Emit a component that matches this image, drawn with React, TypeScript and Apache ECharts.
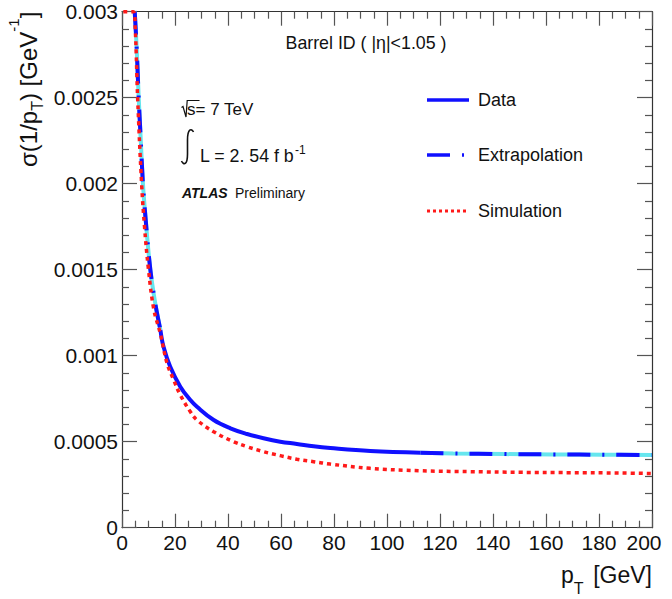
import React, { useEffect, useRef } from "react";
import * as echarts from "echarts";

// ---- data ----
const xTickValues = [0, 20, 40, 60, 80, 100, 120, 140, 160, 180, 200];
const yTickLabels = ["0", "0.0005", "0.001", "0.0015", "0.002", "0.0025", "0.003"];

// fitted resolution curve (Data in the middle, Extrapolation at both ends)
const fitPt = [4.8, 5.5, 6.3, 7, 7.9, 9, 10.7, 12.6, 14.5, 15.7, 18.2, 22, 25.8, 28.3, 34.6, 40.9, 47.2, 53.4, 59.7, 66, 72.3, 78.6, 93.7, 112.6, 125, 144, 163, 182, 200];
const fitSigma = [0.003, 0.0028, 0.0025, 0.00228, 0.002, 0.00178, 0.0015, 0.0013, 0.00115, 0.00105, 0.000936, 0.00082, 0.000742, 0.000703, 0.000626, 0.000578, 0.000545, 0.00052, 0.0005, 0.000487, 0.000473, 0.000463, 0.000446, 0.000436, 0.000432, 0.000428, 0.000426, 0.000424, 0.000423];
const dataRange = [14.5, 112.6];

// simulation curve
const simPt = [0.5, 4.3, 5.0, 5.9, 7.4, 8.5, 10.0, 12, 14.45, 17, 19.5, 22, 25.8, 28.3, 34.6, 42.1, 47.2, 53.4, 59.7, 66, 72.3, 78.6, 93.7, 112.6, 131.4, 150.3, 169, 188, 200];
const simSigma = [0.003, 0.003, 0.0029, 0.0025, 0.002, 0.00175, 0.0015, 0.00127, 0.00113, 0.000956, 0.000859, 0.000772, 0.000674, 0.000626, 0.000558, 0.0005, 0.000471, 0.000442, 0.000419, 0.000398, 0.000384, 0.00037, 0.000345, 0.000331, 0.000326, 0.000322, 0.00032, 0.000318, 0.000315];

const legendNames = ["Data", "Extrapolation", "Simulation"];

const FONT = "'Liberation Sans', Arial, Helvetica, sans-serif";
const BLUE = "#1010ff";
const CYAN = "#66e6ee";
const RED = "#ff1a1a";
const EXTRAP_DASH = [23, 12, 2, 12];
const SIM_DASH = [4, 4];

export default function App() {
  const ref = useRef<HTMLDivElement>(null);

  useEffect(() => {
    const chart = echarts.init(ref.current!, null, { renderer: "svg" });
    const pair = (xs: number[], ys: number[]) => xs.map((x, i) => [x, ys[i]]);
    const fit = pair(fitPt, fitSigma);
    const low = fit.filter((p) => p[0] <= dataRange[0]);
    const mid = fit.filter((p) => p[0] >= dataRange[0] && p[0] <= dataRange[1]);
    const high = fit.filter((p) => p[0] >= dataRange[1]);
    const sim = pair(simPt, simSigma);

    const ctx = document.createElement("canvas").getContext("2d")!;
    const measure = (t: string, size: number) => {
      ctx.font = `${size}px ${FONT}`;
      return ctx.measureText(t).width;
    };

    const axisCommon = {
      axisLine: { show: true, onZero: false, lineStyle: { color: "#333", width: 1.2 } },
      splitLine: { show: false },
      minorSplitLine: { show: false },
    };
    const xTick = {
      axisTick: { show: true, inside: true, length: 14, lineStyle: { color: "#555", width: 1.2 } },
      minorTick: { show: true, splitNumber: 4, length: 7, lineStyle: { color: "#555", width: 1.2 } },
    };
    const yTick = {
      axisTick: { show: true, inside: true, length: 15, lineStyle: { color: "#555", width: 1.2 } },
      minorTick: { show: true, splitNumber: 5, length: 7, lineStyle: { color: "#555", width: 1.2 } },
    };
    const labelStyle = { fontSize: 21, fontFamily: FONT, color: "#111" };

    const lineSeries = (data: number[][], color: string, width: number, dash: any, z: number) => ({
      type: "line",
      data,
      showSymbol: false,
      symbol: "none",
      smooth: 0.4,
      clip: false,
      z,
      lineStyle: { color, width, type: dash || "solid", cap: "butt" },
      silent: true,
    });

    const txt = (text: string, x: number, y: number, size: number, extra: any = {}) => ({
      type: "text",
      x,
      y,
      style: {
        text,
        fontSize: size,
        fontFamily: FONT,
        fill: "#111",
        align: "left",
        verticalAlign: "middle",
        ...extra,
      },
    });

    // y-axis title pieces laid out contiguously along the reading direction
    const yTitle = [
      { t: "σ(1/p", size: 24, dy: 0 },
      { t: "T", size: 16, dy: 9 },
      { t: ") [GeV", size: 24, dy: 0 },
      { t: "-1", size: 15, dy: -15.7 },
      { t: "]", size: 24, dy: 0 },
    ];
    let cursor = 0;
    const yTitleChildren = yTitle.map((p) => {
      const el = txt(p.t, cursor, p.dy, p.size);
      cursor += measure(p.t, p.size);
      return el;
    });

    const pW = measure("p", 23);
    const legendY = [100, 155, 211];

    chart.setOption({
      animation: false,
      backgroundColor: "#fff",
      grid: { left: 122, right: 20, top: 11.7, bottom: 71.3, containLabel: false },
      xAxis: [
        {
          type: "value",
          min: xTickValues[0],
          max: xTickValues[xTickValues.length - 1],
          interval: 20,
          position: "bottom",
          ...axisCommon,
          ...xTick,
          axisLabel: {
            ...labelStyle,
            margin: 4,
            formatter: (v: number) => (v === 200 ? "{last|200}" : String(v)),
            rich: { last: { ...labelStyle, padding: [0, 16, 0, 0] } },
          },
        },
        {
          type: "value",
          min: xTickValues[0],
          max: xTickValues[xTickValues.length - 1],
          interval: 20,
          position: "top",
          ...axisCommon,
          ...xTick,
          axisLabel: { show: false },
        },
      ],
      yAxis: [
        {
          type: "value",
          min: 0,
          max: 0.003,
          interval: 0.0005,
          position: "left",
          ...axisCommon,
          ...yTick,
          axisLabel: {
            ...labelStyle,
            margin: 4,
            formatter: (v: number) => yTickLabels[Math.round(v / 0.0005)] ?? "",
          },
        },
        {
          type: "value",
          min: 0,
          max: 0.003,
          interval: 0.0005,
          position: "right",
          ...axisCommon,
          ...yTick,
          axisLabel: { show: false },
        },
      ],
      series: [
        lineSeries(low, CYAN, 4, "solid", 1),
        lineSeries(high, CYAN, 4, "solid", 1),
        lineSeries(low, BLUE, 4, EXTRAP_DASH, 2),
        lineSeries(high, BLUE, 4, EXTRAP_DASH, 2),
        { ...lineSeries(mid, BLUE, 4, "solid", 3), name: legendNames[0] },
        { ...lineSeries(sim, RED, 3.5, SIM_DASH, 4), name: legendNames[2] },
      ],
      graphic: [
        // Y axis title
        {
          type: "group",
          x: 28.7,
          y: 167,
          rotation: Math.PI / 2,
          children: yTitleChildren,
        },
        // X axis title
        txt("p", 561, 575.4, 23),
        txt("T", 561 + pW, 588, 16),
        txt("[GeV]", 652, 575.4, 23, { align: "right" }),
        // annotations
        txt("Barrel ID ( |η|<1.05 )", 366, 43, 17.8, { align: "center" }),
        {
          type: "polyline",
          shape: { points: [[181.5, 107.5], [183, 106.5], [186, 117], [187.2, 100.5], [199.5, 100.5]] },
          style: { stroke: "#111", lineWidth: 1.2, fill: null },
        },
        txt("s= 7 TeV", 187, 109, 17),
        {
          type: "bezierCurve",
          shape: { x1: 193.5, y1: 132, cpx1: 191.5, cpy1: 128, cpx2: 187.5, cpy2: 128.5, x2: 187.5, y2: 140 },
          style: { stroke: "#111", lineWidth: 1.6, fill: null },
        },
        {
          type: "line",
          shape: { x1: 187.5, y1: 140, x2: 187.5, y2: 154 },
          style: { stroke: "#111", lineWidth: 1.6 },
        },
        {
          type: "bezierCurve",
          shape: { x1: 187.5, y1: 154, cpx1: 187.5, cpy1: 165.5, cpx2: 183.5, cpy2: 165, x2: 181.5, y2: 161 },
          style: { stroke: "#111", lineWidth: 1.6, fill: null },
        },
        txt("L = 2. 54 f b", 200, 155.5, 17.8),
        txt("-1", 295, 150, 12),
        txt("ATLAS", 182, 193, 14, { fontWeight: "bold", fontStyle: "italic" }),
        txt("Preliminary", 235, 193, 14),
        // legend
        {
          type: "line",
          shape: { x1: 427, y1: legendY[0], x2: 469, y2: legendY[0] },
          style: { stroke: BLUE, lineWidth: 3.5 },
        },
        txt(legendNames[0], 478, legendY[0], 18),
        {
          type: "line",
          shape: { x1: 427, y1: legendY[1], x2: 469, y2: legendY[1] },
          style: { stroke: BLUE, lineWidth: 3.5, lineDash: EXTRAP_DASH },
        },
        txt(legendNames[1], 478, legendY[1], 18),
        {
          type: "line",
          shape: { x1: 427, y1: legendY[2], x2: 467, y2: legendY[2] },
          style: { stroke: RED, lineWidth: 3, lineDash: [3, 3] },
        },
        txt(legendNames[2], 478, legendY[2], 18),
      ],
    });

    return () => chart.dispose();
  }, []);

  return (
    <div
      ref={ref}
      style={{ position: "fixed", left: 0, top: 0, width: 672, height: 599, background: "#fff" }}
    />
  );
}
